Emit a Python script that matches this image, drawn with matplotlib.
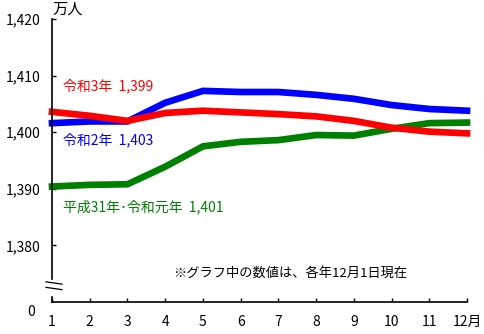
import matplotlib
matplotlib.use("Agg")
import matplotlib.pyplot as plt
from matplotlib.ticker import FuncFormatter

plt.rcParams['font.family'] = ['Noto Sans CJK JP', 'DejaVu Sans']

# 月別人口（万人）
months = list(range(1, 13))
h31_r1 = [1390.4, 1390.7, 1390.8, 1393.9, 1397.5, 1398.3, 1398.6, 1399.5, 1399.4, 1400.6, 1401.6, 1401.7]
r2 = [1401.6, 1401.9, 1401.9, 1405.2, 1407.3, 1407.1, 1407.1, 1406.6, 1405.9, 1404.8, 1404.1, 1403.8]
r3 = [1403.6, 1402.9, 1402.0, 1403.4, 1403.8, 1403.5, 1403.2, 1402.8, 1402.0, 1400.8, 1400.1, 1399.8]

series_names = ['平成31年･令和元年', '令和2年', '令和3年']
colors = ['#008000', '#0000ff', '#ff0000']
yticks = [1380, 1390, 1400, 1410, 1420]
xlabels = [str(m) for m in months[:-1]] + ['12月']

fig = plt.figure(figsize=(4.85, 3.34), dpi=100)
ax = fig.add_axes([52 / 485, 1 - 302 / 334, 415 / 485, 283 / 334])

for vals, c in zip([h31_r1, r2, r3], colors):
    ax.plot(months, vals, color=c, linewidth=4.8, solid_joinstyle='miter', clip_on=False)

ax.set_xlim(1, 12)
ax.set_ylim(1370, 1420)
ax.set_xticks(months)
ax.set_xticklabels(xlabels)
ax.set_yticks(yticks)
ax.yaxis.set_major_formatter(FuncFormatter(lambda v, p: f"{int(v):,}"))
ax.tick_params(axis='both', direction='in', length=3, width=1, labelsize=10)
ax.tick_params(axis='y', pad=8)
ax.tick_params(axis='x', pad=9)

for s in ['top', 'right', 'left']:
    ax.spines[s].set_visible(False)
ax.spines['bottom'].set_linewidth(1.2)

# 縦軸（波線で省略）
ax.plot([0, 0], [(302 - 279) / 283, 1], transform=ax.transAxes, color='black', lw=1.2, clip_on=False)
ax.plot([0, 0], [0, (302 - 297) / 283], transform=ax.transAxes, color='black', lw=1.2, clip_on=False)
for yb in [(302 - 283) / 283, (302 - 288.5) / 283]:
    ax.plot([-0.0145, 0.024], [yb + 0.004, yb - 0.004], transform=ax.transAxes,
            color='black', lw=0.9, clip_on=False)
ax.text(-0.042, -0.035, '0', transform=ax.transAxes, ha='right', va='center', fontsize=10)
ax.text(0.0, 1.035, '万人', transform=ax.transAxes, ha='left', va='center', fontsize=11)

# 系列ラベル（12月の値）
label_pos = [(1.3, 1386.8), (1.3, 1398.6), (1.3, 1408.2)]
for name, vals, c, (lx, ly) in zip(series_names, [h31_r1, r2, r3], colors, label_pos):
    ax.text(lx, ly, f"{name}  {int(vals[-1]):,}", color=c, fontsize=10, va='center', ha='left')

ax.text(4.2, 1375.1, '※グラフ中の数値は、各年12月1日現在', fontsize=9.5, va='center', ha='left')

fig.savefig('out.png', dpi=100)
